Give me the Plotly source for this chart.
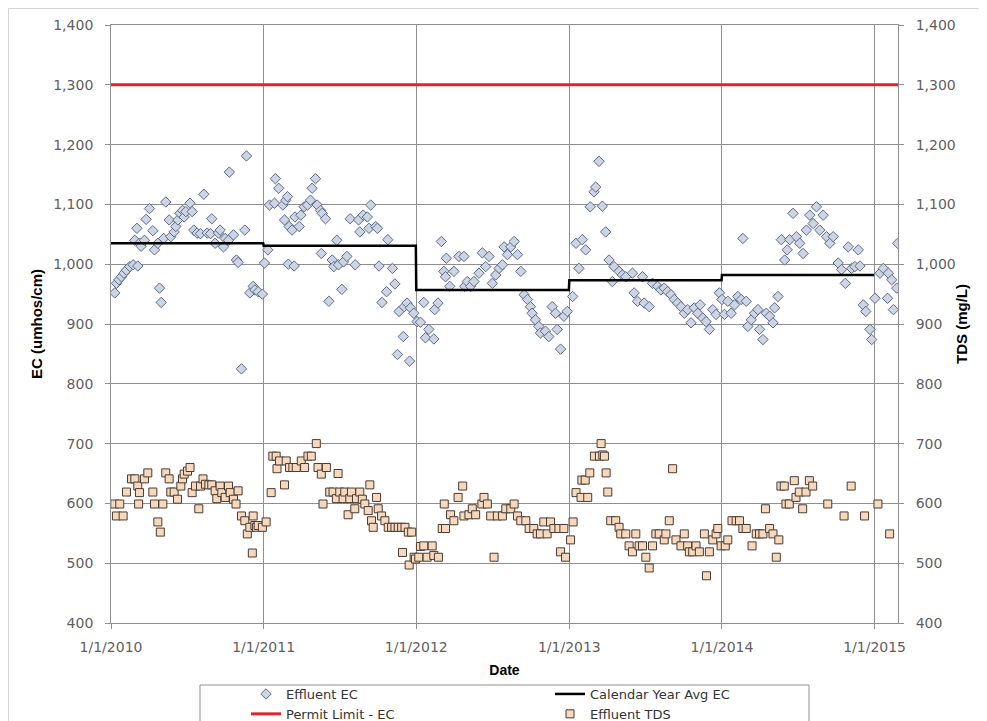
import pandas as pd
import plotly.graph_objects as go

# ---------------- data (days counted from 1/1/2010) ----------------
ec_days_2010 = [9, 13, 19, 25, 31, 37, 45, 53, 57, 62, 64, 68, 72, 80, 84, 92, 100, 104, 112, 116, 120, 126, 131, 139, 143, 151, 155, 160, 165, 171, 175, 179, 189, 194, 198, 206, 214, 222, 230, 238, 241, 249, 257, 261, 269, 273, 281, 283, 293, 300, 304, 312, 320, 324, 332, 340, 344, 352, 362]
ec_vals_2010 = [952, 968, 974, 979, 985, 990, 996, 999, 1040, 1060, 997, 1035, 1030, 1040, 1075, 1093, 1056, 1024, 1035, 960, 936, 1043, 1104, 1074, 1046, 1054, 1063, 1074, 1085, 1090, 1079, 1088, 1102, 1088, 1057, 1052, 1051, 1117, 1052, 1051, 1076, 1035, 1052, 1057, 1029, 1043, 1040, 1154, 1049, 1007, 1003, 825, 1057, 1181, 952, 963, 957, 954, 950]

ec_days_2011 = [367, 375, 379, 391, 393, 401, 411, 415, 418, 422, 424, 426, 433, 438, 440, 450, 454, 462, 470, 477, 481, 489, 493, 501, 505, 503, 513, 521, 529, 533, 540, 544, 552, 556, 564, 572, 584, 592, 595, 603, 613, 617, 621, 633, 637, 641, 648, 659, 662, 673, 679, 685, 689, 699, 701, 708, 714, 716, 724]
ec_vals_2011 = [1002, 1024, 1099, 1102, 1143, 1127, 1099, 1074, 1107, 1113, 1000, 1063, 1057, 997, 1079, 1063, 1082, 1096, 1099, 1107, 1127, 1143, 1099, 1090, 1085, 1018, 1076, 938, 1007, 996, 1040, 999, 958, 1004, 1013, 1076, 999, 1074, 1054, 1082, 1079, 1060, 1099, 1063, 1060, 997, 936, 954, 1041, 993, 967, 849, 921, 879, 929, 935, 838, 927, 918]

ec_days_2012 = [732, 740, 748, 752, 760, 772, 774, 782, 790, 796, 800, 802, 810, 820, 832, 844, 846, 852, 860, 868, 880, 888, 896, 904, 912, 920, 928, 936, 940, 948, 956, 964, 972, 980, 988, 996, 1003, 1007, 1015, 1023, 1027, 1039, 1047, 1055, 1063, 1067, 1075, 1083, 1091]
ec_vals_2012 = [904, 903, 936, 877, 891, 875, 924, 935, 1038, 988, 979, 1010, 963, 988, 1013, 1013, 963, 971, 963, 971, 985, 1019, 996, 1013, 968, 982, 993, 999, 1029, 1016, 1029, 1038, 1016, 988, 949, 941, 929, 918, 907, 896, 885, 888, 879, 929, 918, 891, 858, 913, 921]

ec_days_2013 = [1104, 1112, 1119, 1127, 1135, 1146, 1155, 1159, 1167, 1175, 1183, 1191, 1199, 1203, 1215, 1223, 1231, 1247, 1251, 1259, 1271, 1275, 1287, 1295, 1307, 1315, 1323, 1331, 1339, 1347, 1355, 1363, 1371, 1379, 1387, 1395, 1403, 1409, 1415, 1423, 1431, 1439, 1447, 1455]
ec_vals_2013 = [946, 1035, 993, 1041, 1024, 1096, 1121, 1129, 1172, 1097, 1054, 1007, 971, 996, 988, 982, 979, 985, 952, 938, 979, 935, 929, 968, 963, 957, 960, 954, 949, 941, 935, 929, 918, 924, 902, 927, 918, 932, 910, 904, 891, 924, 916, 952]

ec_days_2014 = [1461, 1467, 1475, 1483, 1491, 1499, 1507, 1511, 1519, 1523, 1531, 1539, 1547, 1551, 1559, 1567, 1575, 1583, 1587, 1595, 1603, 1611, 1617, 1623, 1631, 1639, 1647, 1655, 1663, 1671, 1679, 1687, 1695, 1703, 1711, 1719, 1727, 1739, 1747, 1756, 1763, 1771, 1779, 1787, 1791, 1799, 1805, 1815, 1819]
ec_vals_2014 = [941, 916, 938, 918, 932, 946, 941, 1043, 938, 896, 907, 918, 924, 891, 874, 918, 913, 902, 927, 946, 1041, 1007, 1024, 1041, 1085, 1046, 1035, 1018, 1057, 1082, 1068, 1096, 1057, 1082, 1046, 1035, 1046, 1002, 991, 968, 1029, 993, 996, 1024, 997, 932, 921, 891, 874]

ec_days_2015 = [1827, 1839, 1847, 1857, 1859, 1867, 1871, 1879, 1881]
ec_vals_2015 = [943, 985, 993, 943, 985, 974, 924, 960, 1035]

tds_days_2010 = [9, 13, 21, 29, 37, 49, 57, 64, 66, 68, 80, 88, 100, 104, 112, 118, 124, 131, 139, 143, 151, 159, 167, 171, 175, 183, 189, 194, 202, 210, 214, 220, 226, 234, 241, 249, 253, 261, 265, 273, 281, 285, 293, 299, 304, 312, 320, 326, 332, 338, 340, 344, 348, 352, 362]
tds_vals_2010 = [599, 579, 599, 579, 619, 641, 641, 629, 599, 618, 641, 651, 619, 599, 569, 552, 599, 651, 641, 619, 619, 607, 629, 641, 649, 654, 660, 618, 629, 591, 629, 641, 632, 631, 631, 621, 608, 629, 618, 610, 629, 618, 607, 599, 621, 579, 571, 549, 560, 517, 579, 563, 560, 563, 560]

tds_days_2011 = [371, 383, 387, 395, 397, 403, 415, 419, 427, 435, 443, 455, 463, 471, 479, 491, 495, 503, 507, 515, 523, 531, 539, 543, 547, 555, 559, 567, 571, 575, 583, 587, 595, 601, 607, 615, 619, 623, 627, 635, 639, 647, 655, 663, 671, 679, 687, 695, 697, 703, 711, 713, 719, 725]
tds_vals_2011 = [569, 618, 679, 679, 658, 671, 631, 671, 660, 660, 660, 671, 660, 679, 679, 700, 660, 649, 599, 660, 619, 619, 608, 650, 619, 608, 619, 581, 608, 619, 591, 608, 619, 607, 599, 588, 631, 571, 560, 610, 591, 579, 571, 560, 560, 560, 560, 560, 518, 560, 552, 497, 552, 510]

tds_days_2012 = [728, 736, 740, 748, 756, 768, 772, 783, 792, 797, 800, 812, 820, 830, 841, 844, 856, 864, 872, 887, 892, 900, 908, 916, 924, 936, 944, 956, 964, 972, 980, 992, 1000, 1011, 1019, 1027, 1035, 1043, 1051, 1059, 1071, 1075, 1083, 1087, 1099, 1105]
tds_vals_2012 = [507, 510, 528, 529, 510, 529, 513, 510, 558, 599, 558, 581, 571, 610, 629, 579, 581, 591, 581, 599, 610, 599, 579, 510, 579, 579, 591, 591, 599, 579, 571, 571, 558, 558, 549, 549, 569, 549, 569, 558, 558, 519, 558, 510, 539, 569]

tds_days_2013 = [1112, 1124, 1126, 1134, 1140, 1145, 1156, 1168, 1172, 1176, 1180, 1184, 1188, 1195, 1207, 1215, 1219, 1231, 1239, 1247, 1255, 1263, 1271, 1279, 1287, 1295, 1303, 1311, 1323, 1327, 1335, 1343, 1351, 1363, 1371, 1379, 1383, 1391, 1399, 1407, 1419, 1424, 1431, 1439, 1447, 1451, 1459]
tds_vals_2013 = [618, 610, 639, 639, 610, 651, 679, 679, 700, 681, 679, 651, 619, 571, 571, 560, 549, 549, 529, 519, 549, 529, 529, 510, 492, 529, 549, 549, 539, 549, 571, 658, 539, 529, 549, 529, 519, 519, 529, 519, 549, 479, 519, 539, 549, 558, 529]

tds_days_2014 = [1469, 1475, 1485, 1495, 1503, 1511, 1519, 1533, 1543, 1551, 1559, 1565, 1575, 1583, 1591, 1597, 1602, 1610, 1614, 1622, 1634, 1638, 1646, 1654, 1662, 1670, 1678, 1714, 1753, 1770, 1802, 1834, 1862]
tds_vals_2014 = [529, 539, 571, 571, 571, 558, 558, 529, 549, 549, 549, 591, 558, 549, 510, 539, 629, 629, 599, 599, 638, 610, 619, 591, 619, 638, 629, 599, 579, 629, 579, 599, 549]

avg_years = [2010, 2011, 2012, 2013, 2014]
avg_ec = [1035, 1031, 957, 973, 982]

permit_limit = 1300
permit_dates = ["2010-01-01", "2015-02-26"]

x_range = ["2010-01-01", "2015-02-26"]

# ---------------- build series ----------------
base = pd.Timestamp("2010-01-01")
ec_days = ec_days_2010 + ec_days_2011 + ec_days_2012 + ec_days_2013 + ec_days_2014 + ec_days_2015
ec_vals = ec_vals_2010 + ec_vals_2011 + ec_vals_2012 + ec_vals_2013 + ec_vals_2014 + ec_vals_2015
tds_days = tds_days_2010 + tds_days_2011 + tds_days_2012 + tds_days_2013 + tds_days_2014
tds_vals = tds_vals_2010 + tds_vals_2011 + tds_vals_2012 + tds_vals_2013 + tds_vals_2014
ec_dates = base + pd.to_timedelta(ec_days, unit="D")
tds_dates = base + pd.to_timedelta(tds_days, unit="D")

avg_x, avg_y = [], []
for yr, v in zip(avg_years, avg_ec):
    avg_x += [pd.Timestamp(f"{yr}-01-01"), pd.Timestamp(f"{yr}-12-31")]
    avg_y += [v, v]

FONT = "DejaVu Sans"
TFONT = "Liberation Sans"
TICKC = "#5f5f5f"
GRID = "#8f8f8f"

# The page body has an 8px margin, so the figure's own origin sits 8px in.
W, H = 979, 713
L, T, R, B = 103, 17, W - 890, H - 615


def px_x(sx):
    return (sx - 111) / 787


def px_y(sy):
    return (623 - sy) / 598


fig = go.Figure()
fig.add_trace(go.Scatter(
    x=ec_dates, y=ec_vals, mode="markers", name="Effluent EC", legend="legend",
    marker=dict(symbol="diamond", size=8, color="#cdd4e4",
                line=dict(color="#5c6b8c", width=1))))
fig.add_trace(go.Scatter(
    x=avg_x, y=avg_y, mode="lines", name="Calendar Year Avg EC", legend="legend2",
    line=dict(color="black", width=2.5)))
fig.add_trace(go.Scatter(
    x=permit_dates, y=[permit_limit, permit_limit], mode="lines", name="Permit Limit - EC",
    legend="legend", line=dict(color="#e0242c", width=3)))
fig.add_trace(go.Scatter(
    x=tds_dates, y=tds_vals, mode="markers", name="Effluent TDS", legend="legend2",
    yaxis="y2",
    marker=dict(symbol="square", size=8, color="#f6d8bd",
                line=dict(color="#4a3b33", width=1))))

axis_common = dict(showline=True, linecolor=GRID, linewidth=1, ticks="outside", ticklen=5,
                   tickcolor=GRID, tickfont=dict(family=FONT, size=14, color=TICKC),
                   zeroline=False)

fig.update_layout(
    width=W, height=H,
    margin=dict(l=L, r=R, t=T, b=B, autoexpand=False),
    paper_bgcolor="white", plot_bgcolor="white",
    font=dict(family=FONT, size=13, color="#333333"),
    xaxis=dict(type="date", range=x_range, dtick="M12", tick0="2010-01-01",
               tickformat="%-m/%-d/%Y", mirror=True, showgrid=True, gridcolor=GRID,
               ticklabelstandoff=6,
               title=dict(text="<b>Date</b>", font=dict(family=TFONT, size=14, color="black"), standoff=11),
               **axis_common),
    yaxis=dict(range=[400, 1400], dtick=100, tickformat=",d", showgrid=True, gridcolor=GRID,
               ticksuffix="  ",
               title=dict(text="<b>EC (umhos/cm)</b>", font=dict(family=TFONT, size=15, color="black"), standoff=6),
               **axis_common),
    yaxis2=dict(range=[400, 1400], dtick=100, tickformat=",d", overlaying="y", side="right",
                showgrid=False, tickprefix="  ",
                title=dict(text="<b>TDS (mg/L)</b>", font=dict(family=TFONT, size=15, color="black"), standoff=1),
                **axis_common),
    legend=dict(x=px_x(246), y=px_y(679), xanchor="left", yanchor="top",
                orientation="v", bgcolor="rgba(0,0,0,0)", tracegroupgap=0,
                font=dict(family=FONT, size=13, color="#333333")),
    legend2=dict(x=px_x(550), y=px_y(679), xanchor="left", yanchor="top",
                 orientation="v", bgcolor="rgba(0,0,0,0)", tracegroupgap=0,
                 font=dict(family=FONT, size=13, color="#333333")),
    showlegend=True,
    shapes=[
        dict(type="rect", xref="paper", yref="paper",
             x0=px_x(200), x1=px_x(809), y0=px_y(760), y1=px_y(685),
             line=dict(color="#8f8f8f", width=1), fillcolor="rgba(0,0,0,0)", layer="below"),
        dict(type="rect", xref="paper", yref="paper",
             x0=px_x(8.5), x1=px_x(1100), y0=px_y(760), y1=px_y(8.5),
             line=dict(color="#d4d4d4", width=1), fillcolor="rgba(0,0,0,0)", layer="below"),
    ],
)

fig.write_html("out.html")
